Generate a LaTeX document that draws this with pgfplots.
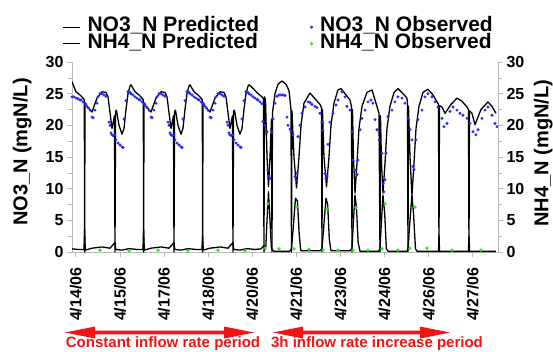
\documentclass[border=0pt]{standalone}
\usepackage{fontspec}
\setmainfont{Liberation Sans}
\usepackage{pgfplots}
\pgfplotsset{compat=1.18}
\definecolor{obsblue}{RGB}{40,40,255}
\definecolor{obsgreen}{RGB}{30,235,30}
\definecolor{axgray}{RGB}{185,185,185}
\definecolor{arrred}{RGB}{240,20,20}
\begin{document}
\begin{tikzpicture}[x=1pt,y=1pt]
\useasboundingbox (0,0) rectangle (553,351);
\begin{axis}[
  at={(72pt,99pt)}, anchor=south west,
  scale only axis, width=426pt, height=190pt,
  xmin=0, xmax=15.38, ymin=0, ymax=30,
  axis x line*=bottom, axis y line*=left,
  axis line style={axgray, line width=0.8pt},
  tick style={axgray, line width=0.6pt},
  tick align=outside, major tick length=5pt, minor tick length=4pt,
  xtick={0.137,1.729,3.322,4.914,6.506,8.099,9.691,11.283,12.876,14.468},
  xticklabels={4/14/06,4/15/06,4/17/06,4/18/06,4/20/06,4/21/06,4/23/06,4/24/06,4/26/06,4/27/06},
  ytick={0,5,10,15,20,25,30}, minor y tick num=1, minor x tick num=1,
  /pgf/number format/assume math mode=true,
  ticklabel style={font=\fontsize{16}{16}\selectfont\bfseries},
  xticklabel style={yshift=-7pt, rotate=90, anchor=east},
  ylabel={NO3\_N (mgN/L)},
  ylabel style={font=\fontsize{20}{20}\selectfont\bfseries, at={(axis description cs:-0.117,0.526)}, anchor=center},
  legend columns=2,
  legend cell align=left,
  legend style={at={(-0.0235,1.228)}, anchor=north west, draw=none, fill=none, inner sep=0pt,
    font=\fontsize{21}{21}\selectfont\bfseries,
    /tikz/every odd column/.append style={column sep=7pt},
    /tikz/every even column/.append style={column sep=51pt},
    nodes={inner sep=0pt, text height=13pt, text depth=3.6pt}},
]
\addlegendimage{black, line width=1.3pt}
\addlegendentry{NO3\_N Predicted}
\addlegendimage{only marks, mark=*, mark size=1.3pt, obsblue}
\addlegendentry{NO3\_N Observed}
\addlegendimage{black, line width=1.3pt}
\addlegendentry{NH4\_N Predicted}
\addlegendimage{only marks, mark=*, mark size=1.5pt, obsgreen}
\addlegendentry{NH4\_N Observed}

% NO3_N observed
\addplot[only marks, mark=*, mark size=1.3pt, obsblue, draw=none, forget plot] coordinates {
(0,24.5)(0.072,24.5)(0.144,24.3)(0.217,24.2)(0.289,24.0)(0.325,24.0)(0.397,23.7)(0.469,23.4)(0.505,23.2)(0.578,22.8)(0.650,22.4)(0.722,21.3)(0.758,21.2)(0.830,22.4)(0.903,23.5)(0.939,24.5)(1.011,25.0)(1.083,25.0)(1.155,24.8)(1.227,24.6)(1.336,20.5)(1.372,20.0)(1.408,18.8)(1.444,18.5)(1.480,18.4)(1.552,18.5)(1.588,17.7)(1.661,17.2)(1.733,16.9)(1.805,16.6)(1.841,16.5)(1.877,21.0)(1.949,23.9)(2.022,25.3)(2.094,25.2)
(2.130,25.0)(2.202,24.8)(2.274,24.5)(2.347,24.3)(2.419,24.1)(2.455,24.0)(2.527,23.7)(2.599,23.4)(2.635,23.2)(2.708,22.8)(2.780,22.4)(2.852,21.3)(2.888,21.2)(2.960,22.4)(3.033,23.5)(3.069,24.5)(3.141,25.0)(3.213,25.0)(3.285,24.8)(3.357,24.6)(3.466,20.5)(3.502,20.0)(3.538,18.8)(3.574,18.5)(3.610,18.4)(3.682,18.5)(3.718,17.7)(3.791,17.2)(3.863,16.9)(3.935,16.6)(3.971,16.5)(4.007,21.0)(4.079,23.9)(4.152,25.3)(4.224,25.2)
(4.260,25.0)(4.332,24.8)(4.404,24.5)(4.477,24.3)(4.549,24.1)(4.585,24.0)(4.657,23.7)(4.729,23.4)(4.765,23.2)(4.838,22.8)(4.910,22.4)(4.982,21.3)(5.018,21.2)(5.090,22.4)(5.163,23.5)(5.199,24.5)(5.271,25.0)(5.343,25.0)(5.415,24.8)(5.487,24.6)(5.596,20.5)(5.632,20.0)(5.668,18.8)(5.704,18.5)(5.740,18.4)(5.812,18.5)(5.848,17.7)(5.921,17.2)(5.993,16.9)(6.065,16.6)(6.101,16.5)(6.137,21.0)(6.209,23.9)(6.282,25.3)(6.354,25.2)
(6.390,25.0)(6.462,24.8)(6.534,24.5)(6.607,24.3)(6.679,24.1)(6.715,24.0)(6.787,23.7)(6.859,23.4)(6.895,20.6)(6.968,20.0)(7.040,19.0)(7.076,12.9)(7.112,12.0)(7.148,11.6)(7.220,19.0)(7.256,21.0)(7.329,23.5)(7.401,24.6)(7.473,24.8)(7.545,24.8)(7.617,24.8)(7.690,24.7)(7.762,21.3)(7.798,20.0)(7.870,19.4)(7.906,19.0)(7.978,18.5)(8.051,11.9)(8.087,11.4)(8.123,12.5)(8.159,18.2)(8.231,20.0)(8.303,21.9)(8.412,22.9)(8.520,23.7)(8.592,23.6)(8.664,23.3)(8.773,23.0)(8.845,22.8)(8.953,21.9)(9.025,20.5)(9.061,19.2)(9.134,12.4)(9.170,11.6)(9.206,12.0)(9.242,17.0)(9.314,20.5)(9.422,21.9)(9.531,23.2)(9.603,24.0)(9.747,25.3)(9.856,24.5)(9.928,23.0)(10.036,22.4)(10.108,19.0)(10.144,14.5)(10.217,12.9)(10.289,12.2)(10.325,14.5)(10.397,19.3)(10.469,21.1)(10.578,22.4)(10.686,23.7)(10.794,24.0)(10.866,23.5)(10.939,20.9)(11.011,19.3)(11.083,17.7)(11.191,15.6)(11.227,10.8)(11.264,9.5)(11.300,11.4)(11.336,15.6)(11.408,21.4)(11.552,22.4)(11.661,23.7)(11.769,24.5)(11.913,24.3)(12.022,23.5)(12.130,21.1)(12.202,19.3)(12.274,17.7)(12.310,13.5)(12.347,13.0)(12.419,17.7)(12.491,20.9)(12.635,22.4)(12.744,24.5)(12.852,25.0)(12.996,24.5)(13.105,23.7)(13.213,22.9)(13.357,21.1)(13.430,19.8)(13.538,20.3)(13.646,22.2)(13.755,22.9)(13.899,22.4)(14.007,21.9)(14.116,21.6)(14.260,21.1)(14.368,20.3)(14.477,19.0)(14.585,18.5)(14.657,19.3)(14.801,21.1)(14.910,22.4)(15.018,22.9)(15.162,21.6)(15.271,20.3)(15.343,19.8)
};

% NO3_N predicted
\addplot[black, line width=1.3pt, line join=round, forget plot] coordinates {
(0,26.9)(0.144,25.3)(0.289,24.8)(0.397,24.3)(0.445,24.0)(0.455,0)(0.470,23.6)(0.542,23.0)(0.722,22.1)(0.903,24.3)(1.083,25.3)(1.227,25.2)(1.300,24.5)(1.444,19.5)(1.534,21.5)(1.552,0)(1.574,22.2)(1.606,22.4)(1.697,20.0)(1.805,18.6)(1.877,19.5)(1.949,22.5)(2.022,25.0)(2.094,26.2)
(2.130,26.4)(2.274,25.3)(2.419,24.8)(2.527,24.3)(2.575,24.0)(2.585,0)(2.600,23.6)(2.672,23.0)(2.852,22.1)(3.033,24.3)(3.213,25.3)(3.357,25.2)(3.430,24.5)(3.574,19.5)(3.664,21.5)(3.682,0)(3.704,22.2)(3.736,22.4)(3.827,20.0)(3.935,18.6)(4.007,19.5)(4.079,22.5)(4.152,25.0)(4.224,26.2)
(4.260,26.4)(4.404,25.3)(4.549,24.8)(4.657,24.3)(4.705,24.0)(4.715,0)(4.730,23.6)(4.802,23.0)(4.982,22.1)(5.163,24.3)(5.343,25.3)(5.487,25.2)(5.560,24.5)(5.704,19.5)(5.794,21.5)(5.812,0)(5.834,22.2)(5.866,22.4)(5.957,20.0)(6.065,18.6)(6.137,19.5)(6.209,22.5)(6.282,25.0)(6.354,26.2)
(6.390,26.4)(6.498,26.0)(6.715,25.0)(6.859,24.5)(6.913,24.2)(6.931,0)(6.949,24.5)(6.986,24.0)(7.040,15)(7.094,10.3)(7.148,15)(7.202,21)(7.220,0)(7.238,22)(7.329,25)(7.437,26.5)(7.581,27.0)(7.726,26.5)(7.834,25.5)(7.906,22.5)(7.924,0)(7.942,22.3)(8.014,15)(8.105,10.1)(8.195,15)(8.267,20)(8.375,23.5)(8.592,25.1)(8.773,24.2)(8.953,23.3)(9.007,22.8)(9.025,0)(9.043,22.5)(9.097,15)(9.188,10.3)(9.278,15)(9.350,20)(9.458,23.5)(9.603,25.6)(9.711,25.8)(9.892,24.8)(10.036,24.0)(10.090,23.0)(10.108,0)(10.126,22.5)(10.162,15)(10.217,9.3)(10.289,14)(10.361,19.5)(10.469,23)(10.650,25.2)(10.830,25.6)(10.975,23.5)(11.083,21.9)(11.119,0)(11.137,21.5)(11.173,14)(11.227,9.3)(11.300,14)(11.372,19.5)(11.480,23)(11.625,25.2)(11.769,25.8)(11.949,25)(12.094,24.3)(12.112,23.5)(12.130,0)(12.148,23)(12.202,15)(12.274,9.0)(12.347,14)(12.419,19.5)(12.527,23)(12.671,25.2)(12.852,25.7)(13.032,24.8)(13.177,23.7)(13.231,23.3)(13.249,0)(13.267,23.1)(13.357,22.9)(13.466,21.9)(13.682,23.3)(13.899,24.3)(14.079,23.8)(14.260,22.9)(14.314,22.5)(14.332,0)(14.350,22.3)(14.440,21.9)(14.549,20.1)(14.765,22.5)(15.018,23.7)(15.162,23.0)(15.307,21.9)
};

% NH4_N predicted
\addplot[black, line width=1.3pt, line join=round, forget plot] coordinates {
(0,0.5)(0.217,0.4)(0.433,0.4)(0.455,3.5)(0.480,0.3)(0.722,0.6)(1.083,0.8)(1.372,0.6)(1.552,1.5)(1.580,0.4)(1.805,0.3)(2.022,0.5)
(2.130,0.5)(2.347,0.4)(2.563,0.4)(2.585,3.5)(2.610,0.3)(2.852,0.6)(3.213,0.8)(3.502,0.6)(3.682,1.5)(3.710,0.4)(3.935,0.3)(4.152,0.5)
(4.260,0.5)(4.477,0.4)(4.693,0.4)(4.715,2.5)(4.740,0.3)(4.982,0.6)(5.343,0.8)(5.632,0.6)(5.812,1.5)(5.840,0.4)(6.065,0.3)(6.282,0.5)
(6.390,0.5)(6.607,0.4)(6.823,0.5)(6.931,1.0)(6.960,0.3)(7.000,1)(7.040,5)(7.094,9.5)(7.148,5)(7.202,0.5)(7.300,0.1)(7.850,0.1)(7.924,0.5)(7.990,4)(8.069,8.5)(8.140,8)(8.200,3)(8.260,0.2)(8.950,0.2)(9.025,0.5)(9.097,4.5)(9.170,8.5)(9.230,7.5)(9.290,2)(9.350,0.2)(10.036,0.2)(10.108,0.5)(10.162,5)(10.217,9)(10.270,7)(10.330,1.5)(10.400,0.1)(11.065,0.1)(11.119,0.5)(11.173,5)(11.227,9)(11.290,6)(11.350,0.5)(11.420,0.1)(12.094,0.1)(12.130,0.5)(12.202,5)(12.274,9)(12.330,6)(12.400,0.5)(12.460,0.1)(13.230,0.1)(13.249,2.7)(13.270,0.1)(14.310,0.1)(14.332,2.5)(14.355,0.1)(15.307,0.1)
};

% NH4_N observed
\addplot[only marks, mark=*, mark size=1.5pt, obsgreen, draw=none, forget plot] coordinates {
(1.011,0.3)(2.058,0.2)(3.105,0.3)(4.188,0.2)(5.271,0.3)(6.245,0.2)(6.968,0.6)(7.076,7.6)
(7.473,0.5)(8.014,0.5)(8.123,7.1)(8.556,0.4)(9.061,0.3)(9.206,6.8)(9.603,0.3)(10.144,0.3)(10.253,7.0)(10.686,0.3)(11.191,0.5)(11.300,7.6)(11.769,0.3)(12.202,0.6)(12.383,7.1)(12.816,0.6)(13.718,0.3)(14.765,0.3)
};
\end{axis}

\begin{axis}[
  at={(72pt,99pt)}, anchor=south west,
  scale only axis, width=426pt, height=190pt,
  xmin=0, xmax=15.38, ymin=0, ymax=30,
  axis x line=none, axis y line*=right,
  axis line style={axgray, line width=0.8pt},
  tick style={axgray, line width=0.6pt},
  tick align=outside, major tick length=5pt, minor tick length=4pt,
  ytick={0,5,10,15,20,25,30}, minor y tick num=1,
  /pgf/number format/assume math mode=true,
  ticklabel style={font=\fontsize{16}{16}\selectfont\bfseries},
  ylabel={NH4\_N (mgN/L)},
  ylabel style={font=\fontsize{20}{20}\selectfont\bfseries, at={(axis description cs:1.106,0.52)}, anchor=center, rotate=0},
]
\end{axis}

% period arrows
\fill[arrred] (65,18.5) -- (95,24.5) -- (95,20.3) -- (224,20.3) -- (224,24.5) -- (254,18.5) -- (224,12.5) -- (224,16.7) -- (95,16.7) -- (95,12.5) -- cycle;
\fill[arrred] (273,18.5) -- (303,24.5) -- (303,20.3) -- (420,20.3) -- (420,24.5) -- (450,18.5) -- (420,12.5) -- (420,16.7) -- (303,16.7) -- (303,12.5) -- cycle;
\node[arrred, font=\fontsize{15}{15}\selectfont\bfseries, anchor=base, inner sep=0pt] at (163,3.4) {Constant inflow rate period};
\node[arrred, font=\fontsize{15}{15}\selectfont\bfseries, anchor=base, inner sep=0pt] at (377,3.4) {3h inflow rate increase period};
\end{tikzpicture}
\end{document}
